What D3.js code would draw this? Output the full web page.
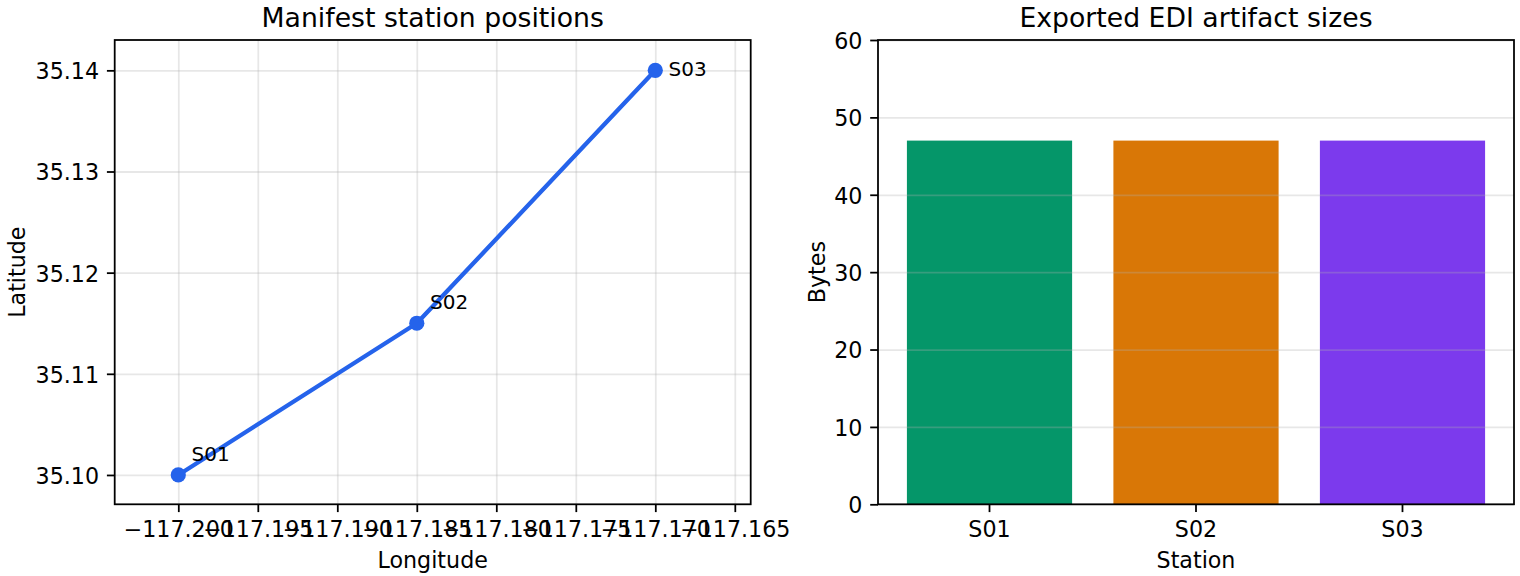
<!DOCTYPE html>
<html>
<head>
<meta charset="utf-8">
<script src="https://cdn.jsdelivr.net/npm/d3@7"></script>
<style>
  html, body { margin: 0; padding: 0; background: #fff; }
  svg { display: block; }
  text { font-family: "DejaVu Sans", sans-serif; fill: #000; }
</style>
</head>
<body>
<svg id="chart" width="1520" height="576"></svg>
<script>
// ---- data ----
const stations = ["S01", "S02", "S03"];
const longitudes = [-117.2, -117.185, -117.17];
const latitudes = [35.10, 35.115, 35.14];
const artifactBytes = [47, 47, 47];
const lonTicks = [-117.200, -117.195, -117.190, -117.185, -117.180, -117.175, -117.170, -117.165];
const latTicks = [35.10, 35.11, 35.12, 35.13, 35.14];
const byteTicks = [0, 10, 20, 30, 40, 50, 60];
const lonDomain = [-117.204, -117.164];
const latDomain = [35.0971, 35.143];
const byteDomain = [0, 60];

// ---- style ----
const barColors = ["#059669", "#d97706", "#7c3aed"];
const lineColor = "#2563eb";
const TICK = 22.2, LABEL = 22.2, TITLE = 26.7, ANN = 20;
const tickLen = 7.8, tickPad = 7.8, spineW = 1.78;

const svg = d3.select("#chart");

function styleAxis(g) {
  g.select(".domain").remove();
  g.selectAll(".tick line").attr("stroke", "#000").attr("stroke-width", spineW);
  g.selectAll(".tick text").style("font-size", TICK + "px").attr("fill", "#000");
}
function gridStyle(g) {
  g.select(".domain").remove();
  g.selectAll(".tick line").attr("stroke", "#b0b0b0").attr("stroke-opacity", 0.3).attr("stroke-width", spineW);
}

// ===== Left panel =====
const L = { x0: 114.7, x1: 750.7, y0: 40, y1: 504.3 };
const xL = d3.scaleLinear().domain(lonDomain).range([L.x0, L.x1]);
const yL = d3.scaleLinear().domain(latDomain).range([L.y1, L.y0]);
const gL = svg.append("g");

gL.append("g").attr("transform", `translate(0,${L.y1})`)
  .call(d3.axisBottom(xL).tickValues(lonTicks).tickSize(-(L.y1 - L.y0)).tickFormat(""))
  .call(gridStyle);
gL.append("g").attr("transform", `translate(${L.x0},0)`)
  .call(d3.axisLeft(yL).tickValues(latTicks).tickSize(-(L.x1 - L.x0)).tickFormat(""))
  .call(gridStyle);

const pts = stations.map((s, i) => ({ s, lon: longitudes[i], lat: latitudes[i] }));
gL.append("path").datum(pts)
  .attr("fill", "none").attr("stroke", lineColor).attr("stroke-width", 4.3)
  .attr("stroke-linejoin", "round").attr("stroke-linecap", "butt")
  .attr("d", d3.line().x(d => xL(d.lon)).y(d => yL(d.lat)));
gL.selectAll("circle.pt").data(pts).enter().append("circle")
  .attr("cx", d => xL(d.lon)).attr("cy", d => yL(d.lat)).attr("r", 7.6)
  .attr("fill", lineColor);
gL.selectAll("text.ann").data(pts).enter().append("text")
  .attr("x", d => xL(d.lon) + 13.3)
  .attr("y", (d, i) => i === pts.length - 1 ? yL(d.lat) + 5.2 : yL(d.lat) - 13.8)
  .style("font-size", ANN + "px")
  .text(d => d.s);

const axL_x = gL.append("g").attr("transform", `translate(0,${L.y1})`)
  .call(d3.axisBottom(xL).tickValues(lonTicks).tickSize(tickLen).tickPadding(tickPad).tickFormat(d3.format(".3f")));
styleAxis(axL_x);
axL_x.selectAll(".tick text").attr("dy", "0.76em");
const axL_y = gL.append("g").attr("transform", `translate(${L.x0},0)`)
  .call(d3.axisLeft(yL).tickValues(latTicks).tickSize(tickLen).tickPadding(tickPad).tickFormat(d3.format(".2f")));
styleAxis(axL_y);
axL_y.selectAll(".tick text").attr("dy", "0.38em");

gL.append("rect").attr("x", L.x0).attr("y", L.y0).attr("width", L.x1 - L.x0).attr("height", L.y1 - L.y0)
  .attr("fill", "none").attr("stroke", "#000").attr("stroke-width", spineW);

gL.append("text").attr("x", (L.x0 + L.x1) / 2).attr("y", 26.7).attr("text-anchor", "middle")
  .style("font-size", TITLE + "px").text("Manifest station positions");
gL.append("text").attr("x", (L.x0 + L.x1) / 2).attr("y", 567.5).attr("text-anchor", "middle")
  .style("font-size", LABEL + "px").text("Longitude");
gL.append("text").attr("transform", `translate(25,${(L.y0 + L.y1) / 2}) rotate(-90)`).attr("text-anchor", "middle")
  .style("font-size", LABEL + "px").text("Latitude");

// ===== Right panel =====
const R = { x0: 878, x1: 1514, y0: 40, y1: 504.3 };
const xR = d3.scaleBand().domain(stations).range([R.x0, R.x1]).paddingInner(0.2).paddingOuter(0.14);
const yR = d3.scaleLinear().domain(byteDomain).range([R.y1, R.y0]);
const gR = svg.append("g");

gR.selectAll("rect.bar").data(stations).enter().append("rect")
  .attr("x", d => xR(d)).attr("width", xR.bandwidth())
  .attr("y", (d, i) => yR(artifactBytes[i])).attr("height", (d, i) => yR(0) - yR(artifactBytes[i]))
  .attr("fill", (d, i) => barColors[i]);

gR.append("g").attr("transform", `translate(${R.x0},0)`)
  .call(d3.axisLeft(yR).tickValues(byteTicks).tickSize(-(R.x1 - R.x0)).tickFormat(""))
  .call(gridStyle);

const axR_x = gR.append("g").attr("transform", `translate(0,${R.y1})`)
  .call(d3.axisBottom(xR).tickSize(tickLen).tickPadding(tickPad));
styleAxis(axR_x);
axR_x.selectAll(".tick text").attr("dy", "0.76em");
const axR_y = gR.append("g").attr("transform", `translate(${R.x0},0)`)
  .call(d3.axisLeft(yR).tickValues(byteTicks).tickSize(tickLen).tickPadding(tickPad).tickFormat(d3.format("d")));
styleAxis(axR_y);
axR_y.selectAll(".tick text").attr("dy", "0.38em");

gR.append("rect").attr("x", R.x0).attr("y", R.y0).attr("width", R.x1 - R.x0).attr("height", R.y1 - R.y0)
  .attr("fill", "none").attr("stroke", "#000").attr("stroke-width", spineW);

gR.append("text").attr("x", (R.x0 + R.x1) / 2).attr("y", 26.7).attr("text-anchor", "middle")
  .style("font-size", TITLE + "px").text("Exported EDI artifact sizes");
gR.append("text").attr("x", (R.x0 + R.x1) / 2).attr("y", 567.5).attr("text-anchor", "middle")
  .style("font-size", LABEL + "px").text("Station");
gR.append("text").attr("transform", `translate(824.5,${(R.y0 + R.y1) / 2}) rotate(-90)`).attr("text-anchor", "middle")
  .style("font-size", LABEL + "px").text("Bytes");
</script>
</body>
</html>
